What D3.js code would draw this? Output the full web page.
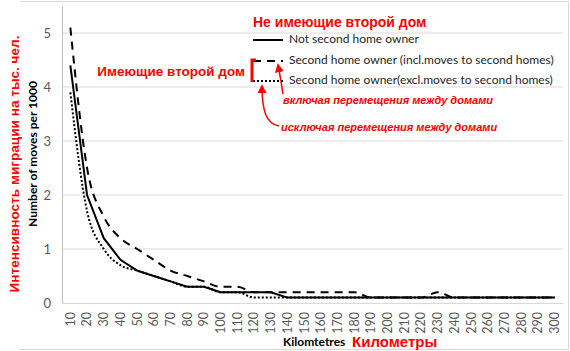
<!DOCTYPE html>
<html>
<head>
<meta charset="utf-8">
<script src="https://cdn.jsdelivr.net/npm/d3@7"></script>
<style>
  body { margin: 0; background: #fff; }
  svg { display: block; }
</style>
</head>
<body>
<div id="chart"></div>
<script>
// distance bands, km
const km = ['10','20','30','40','50','60','70','80','90','100','110','120','130','140','150',
  '160','170','180','190','200','210','220','230','240','250','260','270','280','290','300'];

// moves per 1000
const notOwner = [4.4, 2.0, 1.2, 0.8, 0.6, 0.5, 0.4, 0.3, 0.3, 0.2, 0.2, 0.2, 0.2, 0.1, 0.1,
  0.1, 0.1, 0.1, 0.1, 0.1, 0.1, 0.1, 0.1, 0.1, 0.1, 0.1, 0.1, 0.1, 0.1, 0.1];
const inclMoves = [5.1, 2.5, 1.6, 1.2, 1.0, 0.8, 0.6, 0.5, 0.4, 0.3, 0.3, 0.2, 0.2, 0.2, 0.2,
  0.2, 0.2, 0.2, 0.1, 0.1, 0.1, 0.1, 0.2, 0.1, 0.1, 0.1, 0.1, 0.1, 0.1, 0.1];
const exclMoves = [3.9, 1.7, 1.0, 0.7, 0.6, 0.5, 0.4, 0.3, 0.3, 0.2, 0.2, 0.1, 0.1, 0.1, 0.1,
  0.1, 0.1, 0.1, 0.1, 0.1, 0.1, 0.1, 0.1, 0.1, 0.1, 0.1, 0.1, 0.1, 0.1, 0.1];

const yTicks = [0, 1, 2, 3, 4, 5];

const width = 570, height = 351;
const margin = { top: 6, right: 7, bottom: 48, left: 62 };
const chartWidth = width - margin.left - margin.right;
const chartHeight = height - margin.top - margin.bottom;

const svg = d3.select('#chart').append('svg')
  .attr('width', width)
  .attr('height', height);

// outer frame (top, right, bottom edges visible)
svg.append('path')
  .attr('d', 'M20,1.5H568.5V349.5H20')
  .attr('fill', 'none')
  .attr('stroke', '#d9d9d9');

const g = svg.append('g')
  .attr('transform', `translate(${margin.left},${margin.top})`);

const x = d3.scaleBand().domain(km).range([0, chartWidth]).padding(0);
const y = d3.scaleLinear().domain([0, 5.5]).range([chartHeight, 0]);

// gridlines
g.append('g').selectAll('line')
  .data(yTicks.filter(d => d > 0))
  .join('line')
  .attr('x1', 0).attr('x2', chartWidth)
  .attr('y1', d => y(d)).attr('y2', d => y(d))
  .attr('stroke', '#d9d9d9');

// y axis
const yAxis = g.append('g')
  .call(d3.axisLeft(y).tickValues(yTicks).tickSize(0).tickPadding(11).tickFormat(d3.format('d')));
yAxis.select('.domain').attr('stroke', '#bfbfbf');
yAxis.selectAll('text')
  .attr('font-family', 'Lato, sans-serif')
  .attr('font-size', 13)
  .attr('fill', '#595959');

// x axis
const xAxis = g.append('g')
  .attr('transform', `translate(0,${chartHeight})`)
  .call(d3.axisBottom(x).tickSize(0).tickPadding(0));
xAxis.select('.domain').attr('stroke', '#d9d9d9');
xAxis.selectAll('text')
  .attr('font-family', 'Lato, sans-serif')
  .attr('font-size', 12.5)
  .attr('fill', '#595959')
  .attr('text-anchor', 'end')
  .attr('dy', '0.35em')
  .attr('transform', 'translate(0,9) rotate(-90)');

// series
const line = d3.line()
  .x((d, i) => x(km[i]) + x.bandwidth() / 2)
  .y(d => y(d));
const smooth = d3.line()
  .x((d, i) => x(km[i]) + x.bandwidth() / 2)
  .y(d => y(d))
  .curve(d3.curveMonotoneX);

g.append('path')
  .datum(exclMoves)
  .attr('fill', 'none')
  .attr('stroke', '#000')
  .attr('stroke-width', 2)
  .attr('stroke-dasharray', '2 2')
  .attr('d', smooth);

g.append('path')
  .datum(inclMoves)
  .attr('fill', 'none')
  .attr('stroke', '#000')
  .attr('stroke-width', 2)
  .attr('stroke-dasharray', '8 6')
  .attr('d', smooth);

g.append('path')
  .datum(notOwner)
  .attr('fill', 'none')
  .attr('stroke', '#000')
  .attr('stroke-width', 2)
  .attr('d', line);

// axis titles
svg.append('text')
  .attr('x', 283).attr('y', 346)
  .attr('font-family', 'Lato, sans-serif')
  .attr('font-weight', 'bold')
  .attr('font-size', 12)
  .attr('fill', '#000')
  .text('Kilomtetres');
svg.append('text')
  .attr('x', 352).attr('y', 347)
  .attr('font-family', 'Liberation Sans, Arial, sans-serif')
  .attr('font-weight', 'bold')
  .attr('font-size', 15)
  .attr('fill', '#ff0000')
  .text('Километры');

svg.append('text')
  .attr('transform', 'translate(37,154) rotate(-90)')
  .attr('text-anchor', 'middle')
  .attr('font-family', 'Lato, sans-serif')
  .attr('font-weight', 'bold')
  .attr('font-size', 12)
  .attr('fill', '#000')
  .text('Number of moves per 1000');
svg.append('text')
  .attr('transform', 'translate(19,164) rotate(-90)')
  .attr('text-anchor', 'middle')
  .attr('font-family', 'Liberation Sans, Arial, sans-serif')
  .attr('font-weight', 'bold')
  .attr('font-size', 13.6)
  .attr('fill', '#ff0000')
  .text('Интенсивность миграции на тыс. чел.');

// legend
const legend = svg.append('g').attr('transform', 'translate(253,0)');
const items = [
  { label: 'Not second home owner', dash: null, y: 40 },
  { label: 'Second home owner (incl.moves to second homes)', dash: '8 6', y: 61 },
  { label: 'Second home owner(excl.moves to second homes)', dash: '2 2', y: 81 }
];
items.forEach(it => {
  legend.append('line')
    .attr('x1', 0).attr('x2', 30)
    .attr('y1', it.y).attr('y2', it.y)
    .attr('stroke', '#000')
    .attr('stroke-width', 2)
    .attr('stroke-dasharray', it.dash);
  legend.append('text')
    .attr('x', 36).attr('y', it.y)
    .attr('dominant-baseline', 'middle')
    .attr('font-family', 'Lato, sans-serif')
    .attr('font-size', 12)
    .attr('fill', '#262626')
    .text(it.label);
});

// red annotations
const red = '#ff0000';
svg.append('text')
  .attr('x', 253).attr('y', 27)
  .attr('font-family', 'Liberation Sans, Arial, sans-serif')
  .attr('font-weight', 'bold')
  .attr('font-size', 14)
  .attr('fill', red)
  .text('Не имеющие второй дом');
svg.append('text')
  .attr('x', 245).attr('y', 76)
  .attr('text-anchor', 'end')
  .attr('font-family', 'Liberation Sans, Arial, sans-serif')
  .attr('font-weight', 'bold')
  .attr('font-size', 13.5)
  .attr('fill', red)
  .text('Имеющие второй дом');
svg.append('path')
  .attr('d', 'M256,60H252V82')
  .attr('fill', 'none')
  .attr('stroke', red)
  .attr('stroke-width', 3);

svg.append('text')
  .attr('x', 283).attr('y', 104)
  .attr('font-family', 'Liberation Sans, Arial, sans-serif')
  .attr('font-weight', 'bold')
  .attr('font-style', 'italic')
  .attr('font-size', 11)
  .attr('fill', red)
  .text('включая перемещения между домами');
svg.append('text')
  .attr('x', 281).attr('y', 131)
  .attr('font-family', 'Liberation Sans, Arial, sans-serif')
  .attr('font-weight', 'bold')
  .attr('font-style', 'italic')
  .attr('font-size', 11)
  .attr('fill', red)
  .text('исключая перемещения между домами');

svg.append('defs').append('marker')
  .attr('id', 'arrow')
  .attr('viewBox', '0 0 10 10')
  .attr('refX', 8).attr('refY', 5)
  .attr('markerWidth', 6).attr('markerHeight', 6)
  .attr('orient', 'auto')
  .append('path')
  .attr('d', 'M0,0L10,5L0,10z')
  .attr('fill', red);

svg.append('path')
  .attr('d', 'M283,94Q281,80 278,65')
  .attr('fill', 'none')
  .attr('stroke', red)
  .attr('stroke-width', 1.5)
  .attr('marker-end', 'url(#arrow)');
svg.append('path')
  .attr('d', 'M279,126C266,124 262,110 262,86')
  .attr('fill', 'none')
  .attr('stroke', red)
  .attr('stroke-width', 1.5)
  .attr('marker-end', 'url(#arrow)');
</script>
</body>
</html>
